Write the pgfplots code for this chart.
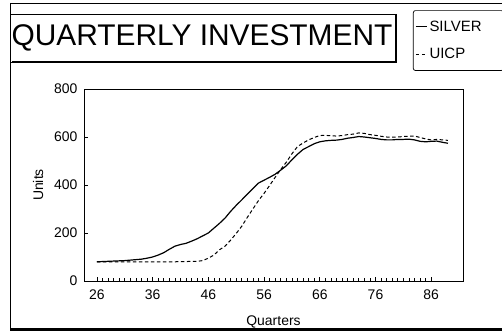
\documentclass[border=0pt]{standalone}
\usepackage{fontspec}
\setmainfont{Liberation Sans}
\usepackage{pgfplots}
\pgfplotsset{compat=1.18}
\begin{document}
\begin{tikzpicture}[x=1bp,y=1bp]
\useasboundingbox (0,0) rectangle (502,333);
% outer frame
\draw[line width=0.8bp] (10,330) -- (10,3);
\draw[line width=0.6bp] (10,330) -- (502,330);
\draw[line width=2.5bp] (10,3.5) -- (502,3.5);
% title box
\draw[line width=0.8bp] (10,319) rectangle (396,271);
\draw[line width=1.6bp] (396,319) -- (396,271) -- (12,271);
\node[font=\fontsize{30}{34}\selectfont, inner sep=0pt] at (202,295) {QUARTERLY INVESTMENT};
\begin{axis}[
  at={(84bp,52bp)}, anchor=south west,
  scale only axis, width=379bp, height=192bp,
  xmin=23.7, xmax=91.7, ymin=0, ymax=800,
  xtick={26,36,46,56,66,76,86},
  ytick={0,200,400,600,800},
  minor x tick num=9,
  tick align=inside,
  major tick length=4bp, minor tick length=3bp,
  xtick pos=bottom, ytick pos=left,
  axis line style={line width=0.9bp},
  every tick/.style={black, line width=0.6bp},
  tick label style={font=\fontsize{14}{16}\selectfont},
  xticklabel style={yshift=-5bp},
  yticklabel style={xshift=-3bp},
  /pgf/number format/assume math mode=true,
  /pgf/number format/set thousands separator={},
  xlabel={Quarters}, ylabel={Units},
  label style={font=\fontsize{14}{16}\selectfont},
  xlabel style={yshift=-10bp},
  ylabel style={yshift=4bp},
  legend style={at={(rel axis cs:0.868,1.41)}, anchor=north west,
    draw=black, line width=0.7bp, rounded corners=2bp,
    font=\fontsize{15}{17}\selectfont, inner xsep=2bp, inner ysep=8bp,
    row sep=12bp, text width=70bp, align=left,
    cells={anchor=west}},
  legend image code/.code={\draw[#1] (0bp,0bp) -- (11bp,0bp);},
]
\addplot[black, line width=1.2bp] coordinates {
(26,80)(27,81)(28,82)(29,83)(30,84)(31,85)(32,87)(33,89)(34,91)(35,95)
(36,100)(37,108)(38,118)(39,132)(40,145)(41,152)(42,157)(43,166)(44,176)(45,188)
(46,200)(47,220)(48,240)(49,262)(50,290)(51,315)(52,338)(53,362)(54,385)(55,408)
(56,420)(57,432)(58,445)(59,462)(60,480)(61,505)(62,528)(63,548)(64,560)(65,572)
(66,580)(67,584)(68,586)(69,587)(70,590)(71,595)(72,598)(73,602)(74,600)(75,597)
(76,594)(77,590)(78,588)(79,588)(80,590)(81,590)(82,591)(83,588)(84,582)(85,580)
(86,582)(87,583)(88,578)(89,574)
};
\addlegendentry{SILVER}
\addplot[black, line width=1bp, dash pattern=on 3.5bp off 2.5bp] coordinates {
(26,80)(27,80)(28,80)(29,80)(30,80)(31,80)(32,80)(33,80)(34,80)(35,80)
(36,80)(37,80)(38,80)(39,80)(40,80)(41,81)(42,81)(43,82)(44,82)(45,85)
(46,95)(47,108)(48,130)(49,145)(50,170)(51,198)(52,228)(53,265)(54,300)(55,335)
(56,365)(57,398)(58,432)(59,465)(60,495)(61,530)(62,560)(63,575)(64,588)(65,598)
(66,606)(67,607)(68,605)(69,604)(70,606)(71,610)(72,612)(73,617)(74,615)(75,610)
(76,607)(77,603)(78,600)(79,599)(80,600)(81,602)(82,603)(83,604)(84,598)(85,592)
(86,588)(87,590)(88,588)(89,586)
};
\addlegendentry{UICP}
\end{axis}
\end{tikzpicture}
\end{document}
